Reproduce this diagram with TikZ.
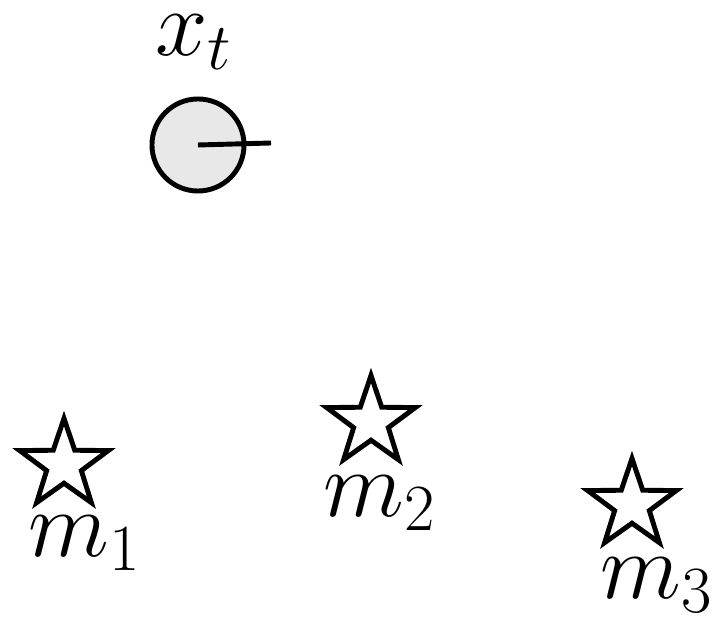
\RequirePackage{fix-cm}
\documentclass[tikz,border=0pt]{standalone}
\usepackage{amsmath,amssymb}
\usepackage{xcolor}
\usepackage{tikz}
\usetikzlibrary{shapes.geometric}

\tikzset{
  robot/.style={draw, circle, fill=black!9, line width=1.4pt, minimum size=0.92cm, inner sep=0pt},
  landmark/.style={draw, star, star points=5, star point ratio=2.55, line width=1.4pt, minimum size=0.93cm, inner sep=0pt},
  lbl/.style={font=\fontsize{26.8}{32}\selectfont, inner sep=0pt}
}

\begin{document}
\begin{tikzpicture}[x=0.01cm,y=-0.01cm]
  \useasboundingbox (0,0) rectangle (723,625);
  \node[robot] (xt) at (198,145) {};
  \coordinate (head) at (271,143);
  \draw[line width=1.4pt] (xt.center) -- (head);
  \node[lbl] (xtlab) at (194,42) {$x_t$};
  \node[landmark] (m1) at (64,465) {};
  \node[landmark] (m2) at (371,422) {};
  \node[landmark] (m3) at (632,505) {};
  \node[lbl] (m1lab) at (85,543) {$m_1$};
  \node[lbl] (m2lab) at (380,503) {$m_2$};
  \node[lbl] (m3lab) at (657,585) {$m_3$};
\end{tikzpicture}
\end{document}
